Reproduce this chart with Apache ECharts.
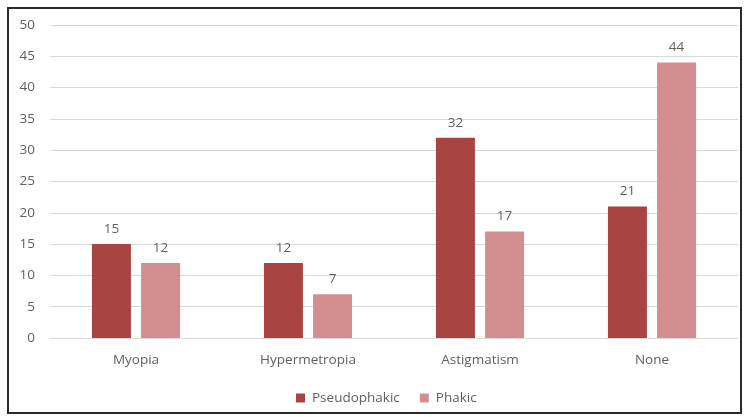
<!DOCTYPE html>
<html>
<head>
<meta charset="utf-8">
<script src="https://cdn.jsdelivr.net/npm/echarts@6/dist/echarts.min.js"></script>
<style>
  html, body { margin: 0; padding: 0; background: #fff; }
  #chart { width: 747px; height: 417px; }
</style>
</head>
<body>
<div id="chart"></div>
<script>
// Refractive status by lens group
const categories = ['Myopia', 'Hypermetropia', 'Astigmatism', 'None'];
const pseudophakic = [15, 12, 32, 21];
const phakic = [12, 7, 17, 44];
const yTicks = { min: 0, max: 50, interval: 5 };

const textColor = '#5f5f5f';
const fontFamily = '"Open Sans", "Liberation Sans", sans-serif';
const fontSize = 13.5;

const chart = echarts.init(document.getElementById('chart'), null, { renderer: 'canvas' });

const labelStyle = {
  show: true,
  position: 'top',
  distance: 8,
  color: textColor,
  fontSize: fontSize,
  fontFamily: fontFamily
};

chart.setOption({
  animation: false,
  backgroundColor: '#ffffff',
  graphic: [{
    type: 'rect',
    shape: { x: 8, y: 8, width: 733, height: 405 },
    style: { fill: 'none', stroke: '#2b2b2b', lineWidth: 2 },
    silent: true
  }],
  grid: { left: 50, right: 9, top: 25, bottom: 79, containLabel: false },
  legend: {
    top: 386,
    left: 291,
    itemWidth: 9,
    itemHeight: 9,
    itemGap: 20,
    icon: 'rect',
    textStyle: { color: textColor, fontSize: fontSize, fontFamily: fontFamily, padding: [0, 0, 0, 2] },
    data: ['Pseudophakic', 'Phakic']
  },
  xAxis: {
    type: 'category',
    data: categories,
    axisLine: { show: true, lineStyle: { color: '#d9d9d9', width: 1 } },
    axisTick: { show: false },
    axisLabel: { color: textColor, fontSize: fontSize, fontFamily: fontFamily, margin: 15 }
  },
  yAxis: {
    type: 'value',
    min: yTicks.min,
    max: yTicks.max,
    interval: yTicks.interval,
    axisLine: { show: false },
    axisTick: { show: false },
    axisLabel: { color: textColor, fontSize: fontSize, fontFamily: fontFamily, margin: 15 },
    splitLine: { lineStyle: { color: '#d9d9d9', width: 1 } }
  },
  series: [
    {
      name: 'Pseudophakic',
      type: 'bar',
      data: pseudophakic,
      barWidth: 39,
      barGap: '26%',
      itemStyle: { color: '#a94442' },
      label: labelStyle
    },
    {
      name: 'Phakic',
      type: 'bar',
      data: phakic,
      barWidth: 39,
      itemStyle: { color: '#d38f90' },
      label: labelStyle
    }
  ]
});
</script>
</body>
</html>
